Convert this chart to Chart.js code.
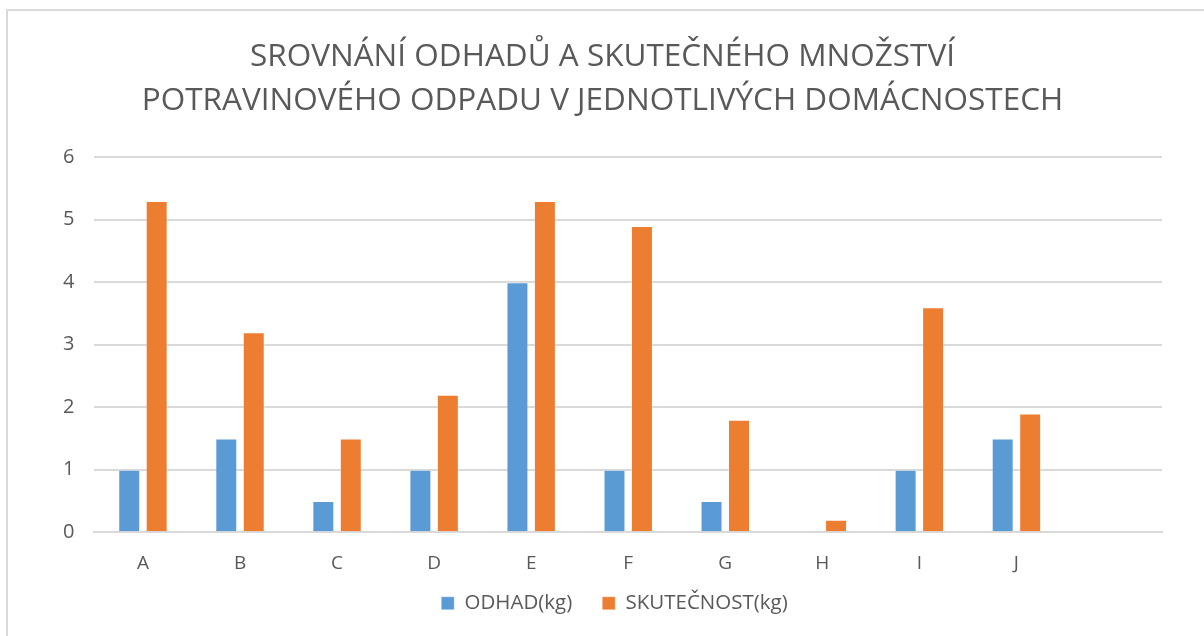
<!DOCTYPE html>
<html>
<head>
<meta charset="utf-8">
<script src="https://cdn.jsdelivr.net/npm/chart.js@4/dist/chart.umd.min.js"></script>
<style>
  html, body { margin: 0; padding: 0; background: #fff; overflow: hidden; }
  #wrap { position: absolute; left: 0; top: 0; width: 1204px; height: 636px; }
  #frame { position: absolute; left: 6px; top: 9px; width: 1300px; height: 700px;
           border-top: 2px solid #d9d9d9; border-left: 2px solid #d9d9d9; box-sizing: border-box; pointer-events: none; }
</style>
</head>
<body>
<div id="wrap">
  <canvas id="c" width="1204" height="636"></canvas>
  <div id="frame"></div>
</div>
<script>
const titleLines = ["SROVNÁNÍ ODHADŮ A SKUTEČNÉHO MNOŽSTVÍ", "POTRAVINOVÉHO ODPADU V JEDNOTLIVÝCH DOMÁCNOSTECH"];
const categories = ["A", "B", "C", "D", "E", "F", "G", "H", "I", "J", ""];
const seriesNames = ["ODHAD(kg)", "SKUTEČNOST(kg)"];
const odhad = [1, 1.5, 0.5, 1, 4, 1, 0.5, 0, 1, 1.5, null];
const skutecnost = [5.3, 3.2, 1.5, 2.2, 5.3, 4.9, 1.8, 0.2, 3.6, 1.9, null];
const yTicks = [0, 1, 2, 3, 4, 5, 6];

const FONT = "'Open Sans', 'Liberation Sans', sans-serif";
const TXT = "#595959";

// place legend row: centre of items at y=604, shifted right by 12px
const legendShift = {
  id: "legendShift",
  afterLayout(chart) {
    const lg = chart.legend;
    if (!lg) return;
    lg.left += 12; lg.right += 12;
    const itemH = 22, pad = 30;
    lg.top = 604 - itemH / 2 - pad;
    lg.bottom = Math.max(lg.bottom, 630);
  }
};

new Chart(document.getElementById("c"), {
  type: "bar",
  data: {
    labels: categories,
    datasets: [
      { label: seriesNames[0], data: odhad, backgroundColor: "#5B9BD5", borderColor: "rgba(255,255,255,0.35)", borderWidth: 1,
        barPercentage: 0.8, categoryPercentage: 0.566 },
      { label: seriesNames[1], data: skutecnost, backgroundColor: "#ED7D31", borderColor: "rgba(255,255,255,0.35)", borderWidth: 1,
        barPercentage: 0.8, categoryPercentage: 0.566 }
    ]
  },
  options: {
    responsive: false,
    animation: false,
    devicePixelRatio: 1,
    layout: { padding: { left: 43, right: 42, top: 20, bottom: 11 } },
    plugins: {
      title: {
        display: true, text: titleLines, color: TXT,
        font: { family: FONT, size: 31.5, weight: "normal", lineHeight: 1.4 },
        padding: { top: 15, bottom: 34 }
      },
      legend: {
        position: "bottom",
        maxHeight: 30,
        labels: { color: TXT, font: { family: FONT, size: 20.5 }, boxWidth: 13, boxHeight: 13, padding: 30 }
      },
      tooltip: { enabled: false }
    },
    scales: {
      x: {
        grid: { display: false, drawTicks: false },
        border: { display: true, color: "#d9d9d9", width: 2 },
        ticks: { color: TXT, font: { family: FONT, size: 19 }, padding: 20 }
      },
      y: {
        min: 0, max: 6,
        afterBuildTicks: (s) => { s.ticks = yTicks.map(v => ({ value: v })); },
        grid: { color: "#d9d9d9", lineWidth: 2, drawTicks: false },
        border: { display: false },
        ticks: { color: TXT, font: { family: FONT, size: 20 }, padding: 20 }
      }
    }
  },
  plugins: [legendShift]
});
</script>
</body>
</html>
